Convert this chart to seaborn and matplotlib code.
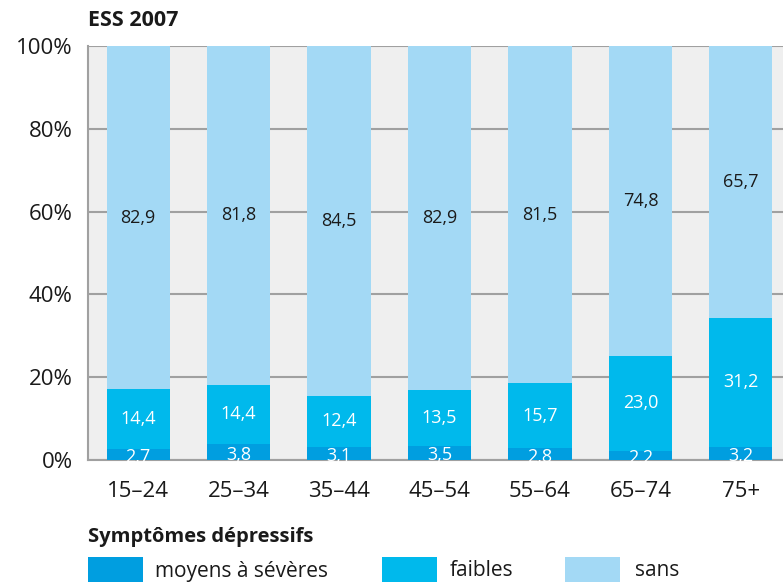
import numpy as np
import pandas as pd
import matplotlib
matplotlib.use("Agg")
import matplotlib.pyplot as plt
from matplotlib.patches import Rectangle
import seaborn as sns

groups = ["15–24", "25–34", "35–44", "45–54", "55–64", "65–74", "75+"]
moyens = [2.7, 3.8, 3.1, 3.5, 2.8, 2.2, 3.2]
faibles = [14.4, 14.4, 12.4, 13.5, 15.7, 23.0, 31.2]
sans = [82.9, 81.8, 84.5, 82.9, 81.5, 74.8, 65.7]
series_names = ["moyens à sévères", "faibles", "sans"]
colors = ["#009ee0", "#00b9ec", "#a3d9f5"]

sns.set_theme(style="white")
plt.rcParams['font.family'] = ['Open Sans', 'DejaVu Sans']

df = pd.DataFrame({"groupe": groups, "moyens": moyens, "faibles": faibles, "sans": sans})
df["c1"] = df["moyens"]
df["c2"] = df["moyens"] + df["faibles"]
df["c3"] = df["c2"] + df["sans"]

fig = plt.figure(figsize=(7.83, 5.82), dpi=100)
ax = fig.add_axes([88/783, 1-460/582, 1-88/783, (460-46)/582])
ax.set_facecolor("#efefef")

for col, c in [("c3", colors[2]), ("c2", colors[1]), ("c1", colors[0])]:
    sns.barplot(data=df, x="groupe", y=col, color=c, width=0.63, ax=ax,
                saturation=1, edgecolor="none", linewidth=0, zorder=3)

ax.set_ylim(0, 100)
ax.set_xlim(-0.5, 6.42)
ax.set_yticks([0, 20, 40, 60, 80, 100])
ax.set_yticklabels(["0%", "20%", "40%", "60%", "80%", "100%"])
ax.yaxis.grid(True, color="#a0a0a0", linewidth=1.5, zorder=0)
ax.set_axisbelow(True)
for s in ["top", "right"]:
    ax.spines[s].set_visible(False)
ax.spines["left"].set_color("#a0a0a0")
ax.spines["left"].set_linewidth(1.5)
ax.spines["bottom"].set_color("#a0a0a0")
ax.spines["bottom"].set_linewidth(1.5)
ax.tick_params(axis="both", length=0, labelsize=16, colors="#1a1a1a")
ax.tick_params(axis="x", pad=15)
ax.tick_params(axis="y", pad=11)
ax.set_xlabel("")
ax.set_ylabel("")

def fmt(v):
    return f"{v:.1f}".replace(".", ",")

for i in range(len(groups)):
    m, f, s = moyens[i], faibles[i], sans[i]
    ax.text(i, m/2 - 0.6, fmt(m), ha="center", va="center", color="white", fontsize=13, zorder=5)
    ax.text(i, m + f/2, fmt(f), ha="center", va="center", color="white", fontsize=13, zorder=5)
    ax.text(i, m + f + s/2, fmt(s), ha="center", va="center", color="#1a1a1a", fontsize=13, zorder=5)

fig.text(88/783, 1-20/582, "ESS 2007", fontsize=15.5, fontweight="bold", color="#1a1a1a",
         ha="left", va="center")
fig.text(88/783, 1-537/582, "Symptômes dépressifs", fontsize=14.5, fontweight="bold",
         color="#1a1a1a", ha="left", va="center")

legend_x = [88, 382, 565]
text_x = [155, 450, 635]
for name, c, lx, tx in zip(series_names, colors, legend_x, text_x):
    fig.patches.append(Rectangle((lx/783, 0), 55/783, 25/582, transform=fig.transFigure,
                                 facecolor=c, edgecolor="none"))
    fig.text(tx/783, 1-571/582, name, fontsize=15, color="#1a1a1a", ha="left", va="center")

fig.savefig("out.png", dpi=100)
